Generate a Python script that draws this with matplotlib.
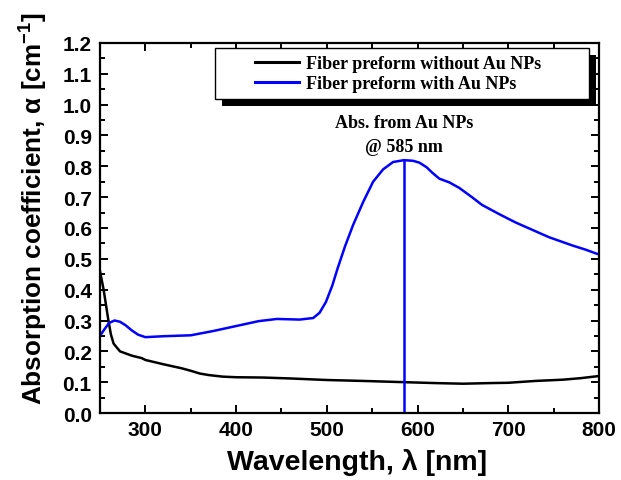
import matplotlib
matplotlib.use('Agg')
import matplotlib.pyplot as plt
from matplotlib.patches import Rectangle
from matplotlib.ticker import MultipleLocator

# data
wl_plain = [250, 254, 259, 262, 265, 272, 285, 296, 300, 320, 340, 350, 360, 370,
            385, 400, 430, 460, 500, 540, 585, 620, 650, 680, 700, 730, 760, 780, 800]
abs_plain = [0.46, 0.40, 0.305, 0.255, 0.225, 0.200, 0.186, 0.178, 0.172, 0.158, 0.145,
             0.137, 0.128, 0.123, 0.118, 0.116, 0.115, 0.112, 0.107, 0.104, 0.100,
             0.097, 0.095, 0.097, 0.098, 0.104, 0.108, 0.113, 0.120]

wl_au = [250, 255, 260, 266, 272, 278, 285, 292, 300, 320, 350, 375, 400, 425, 445,
         470, 485, 492, 499, 506, 512, 520, 529, 540, 551, 562, 573, 585, 595, 602,
         610, 616, 624, 635, 646, 660, 671, 690, 708, 725, 745, 771, 785, 798, 800]
abs_au = [0.250, 0.272, 0.292, 0.300, 0.296, 0.285, 0.268, 0.254, 0.246, 0.249, 0.252,
          0.266, 0.282, 0.298, 0.305, 0.303, 0.308, 0.325, 0.360, 0.413, 0.470, 0.540,
          0.610, 0.684, 0.750, 0.790, 0.814, 0.820, 0.818, 0.812, 0.797, 0.780, 0.760,
          0.748, 0.730, 0.700, 0.675, 0.645, 0.618, 0.596, 0.570, 0.543, 0.530, 0.516,
          0.515]

labels = ['Fiber preform without Au NPs', 'Fiber preform with Au NPs']
peak_wl = 585
peak_abs = 0.82

plt.rcParams['font.family'] = ['Liberation Sans', 'DejaVu Sans']
plt.rcParams['font.weight'] = 'bold'
plt.rcParams['mathtext.fontset'] = 'custom'
plt.rcParams['mathtext.rm'] = 'Liberation Sans:bold'
plt.rcParams['mathtext.it'] = 'Liberation Sans:bold'
plt.rcParams['mathtext.bf'] = 'Liberation Sans:bold'
plt.rcParams['mathtext.default'] = 'rm'

fig = plt.figure(figsize=(6.21, 4.81), dpi=100)
ax = fig.add_axes([100 / 621, 1 - 414 / 481, 499 / 621, 370 / 481])

ax.plot(wl_plain, abs_plain, color='black', lw=1.8, label=labels[0])
ax.plot(wl_au, abs_au, color='#0000ff', lw=1.8, label=labels[1])
ax.vlines(peak_wl, 0, peak_abs, color='#0000ff', lw=1.8)

ax.set_xlim(250, 800)
ax.set_ylim(0, 1.2)
ax.xaxis.set_major_locator(MultipleLocator(100))
ax.xaxis.set_minor_locator(MultipleLocator(50))
ax.yaxis.set_major_locator(MultipleLocator(0.1))
ax.yaxis.set_minor_locator(MultipleLocator(0.05))
ax.tick_params(which='both', direction='in', top=True, right=True, width=1.4)
ax.tick_params(which='major', length=6)
ax.tick_params(which='minor', length=3.5)
ax.tick_params(axis='x', labelsize=15, pad=5)
ax.tick_params(axis='y', labelsize=15, pad=6)
ax.set_xticks([300, 400, 500, 600, 700, 800])
for s in ax.spines.values():
    s.set_linewidth(1.6)

ax.set_xlabel('Wavelength, λ [nm]', fontsize=20.5, fontweight='bold')
ax.set_ylabel('Absorption coefficient, α [cm$^{-1}$]', fontsize=18.8, fontweight='bold')
ax.xaxis.set_label_coords(0.516, -0.095)
ax.yaxis.set_label_coords(-0.100, 0.555)

# legend box with a hard black shadow
ax.add_patch(Rectangle((0.2445, 0.8297), 0.7495, 0.138, transform=ax.transAxes,
                       facecolor='black', edgecolor='none', zorder=5, clip_on=False))
ax.add_patch(Rectangle((0.2305, 0.8486), 0.7495, 0.138, transform=ax.transAxes,
                       facecolor='white', edgecolor='black', lw=1.0, zorder=6, clip_on=False))
leg = ax.legend(loc='center left', bbox_to_anchor=(0.3106, 0.917), frameon=False,
                borderpad=0, borderaxespad=0, handlelength=2.44, handletextpad=0.41,
                labelspacing=0.15, prop={'family': 'Liberation Serif', 'weight': 'bold', 'size': 13})
leg.set_zorder(7)
for h in leg.get_lines():
    h.set_linewidth(2.2)

ax.text(peak_wl, 0.904, 'Abs. from Au NPs\n@ 585 nm', ha='center', va='center',
        family='Liberation Serif', fontweight='bold', fontsize=13, linespacing=1.5)

fig.savefig('out.png', dpi=100)
